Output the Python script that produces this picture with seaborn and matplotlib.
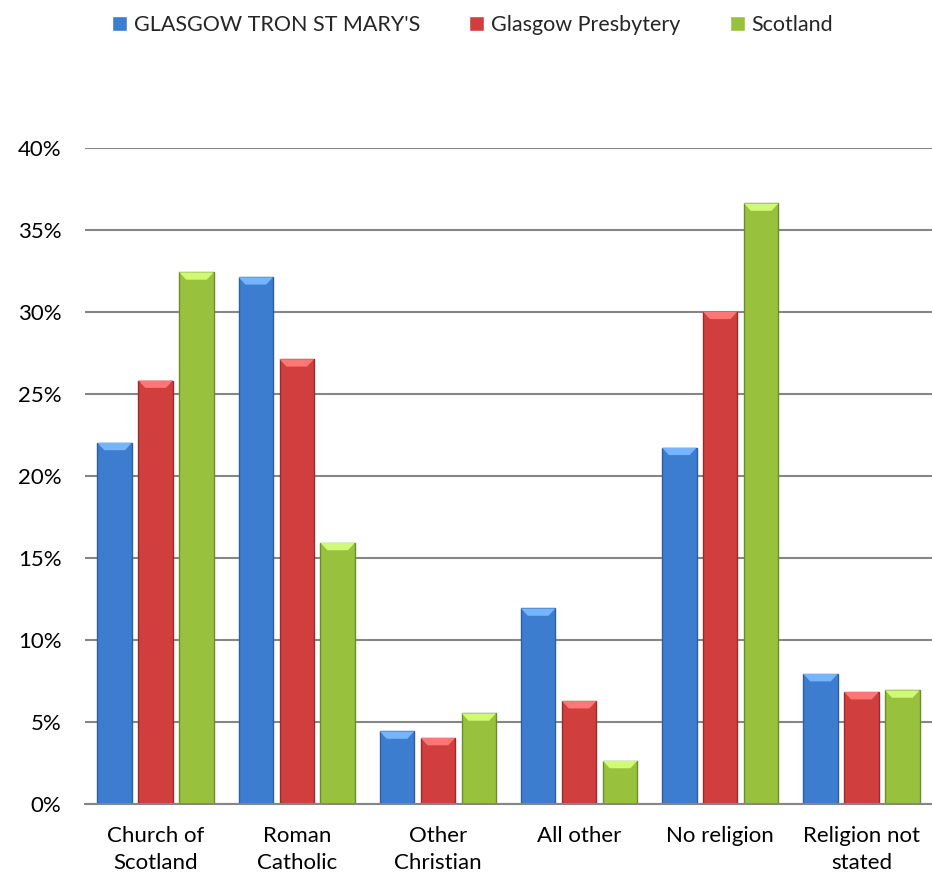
import pandas as pd
import matplotlib.pyplot as plt
import seaborn as sns
from matplotlib.patches import Polygon
from matplotlib.colors import to_rgb

# Data (percent)
categories = ["Church of\nScotland", "Roman\nCatholic", "Other\nChristian",
              "All other", "No religion", "Religion not\nstated"]
series = ["GLASGOW TRON ST MARY'S", "Glasgow Presbytery", "Scotland"]
tron = [22.0, 32.1, 4.4, 11.9, 21.7, 7.9]
presbytery = [25.8, 27.1, 4.0, 6.25, 30.0, 6.8]
scotland = [32.4, 15.9, 5.5, 2.6, 36.6, 6.9]

colors = ["#3D7DCF", "#D13E3E", "#98C23E"]
edges = ["#2D5E9E", "#9A2B2B", "#6C8E2A"]

df = pd.DataFrame({
    "category": categories * 3,
    "series": [series[0]] * 6 + [series[1]] * 6 + [series[2]] * 6,
    "value": tron + presbytery + scotland,
})

sns.set_style("white")
plt.rcParams['font.family'] = ['Lato', 'DejaVu Sans']

fig = plt.figure(figsize=(9.32, 8.75), dpi=100)
ax = fig.add_axes([0.0912, 0.0817, 0.9088, 0.7495])

sns.barplot(data=df, x="category", y="value", hue="series", hue_order=series,
            palette=colors, saturation=1, width=0.87, gap=0.16, ax=ax,
            legend=True)

# edge colours and a light bevel on top of each bar
for i, container in enumerate(ax.containers):
    light = tuple(min(1, c + 0.22) for c in to_rgb(colors[i]))
    for p in container.patches:
        p.set_edgecolor(edges[i])
        p.set_linewidth(1.0)
        x0, w, h = p.get_x(), p.get_width(), p.get_height()
        cap = Polygon([(x0, h), (x0 + w, h), (x0 + w * 0.8, h - 0.45),
                       (x0 + w * 0.2, h - 0.45)], closed=True,
                      facecolor=light, edgecolor="none", zorder=3)
        ax.add_patch(cap)

ax.set_ylim(0, 40)
ax.set_xlim(-0.5, 5.5)
ax.set_yticks(range(0, 41, 5))
ax.set_yticklabels([f"{v}%" for v in range(0, 41, 5)])
ax.yaxis.grid(True, color="#868686", linewidth=1.5)
ax.set_axisbelow(True)
ax.set_xlabel("")
ax.set_ylabel("")
for s in ["top", "right", "left"]:
    ax.spines[s].set_visible(False)
ax.spines["bottom"].set_color("#868686")
ax.spines["bottom"].set_linewidth(1.5)
ax.tick_params(axis="both", length=0, labelsize=16, colors="black")
ax.tick_params(axis="x", pad=16)
ax.tick_params(axis="y", pad=17)
for lbl in ax.get_xticklabels():
    lbl.set_linespacing(1.45)

handles, labels = ax.get_legend_handles_labels()
ax.get_legend().remove()
fig.legend(handles, labels, loc="center", bbox_to_anchor=(0.507, 0.971),
           ncol=3, frameon=False, fontsize=15.5, handlelength=0.7,
           handleheight=0.7, handletextpad=0.3, columnspacing=2.3)

plt.savefig("out.png", dpi=100)
